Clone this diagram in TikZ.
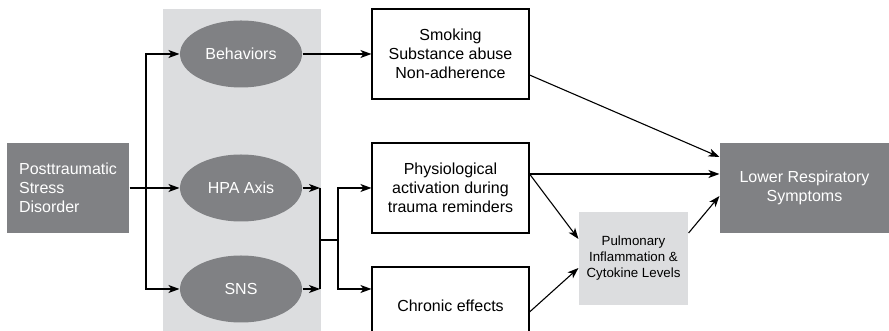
\documentclass[tikz,border=0pt]{standalone}
\usepackage{fontspec}
\setmainfont{Liberation Sans}
\usetikzlibrary{shapes.geometric,arrows.meta,calc}
\definecolor{dk}{RGB}{128,129,132}
\definecolor{lt}{RGB}{220,221,223}
\begin{document}
\begin{tikzpicture}[x=1pt,y=1pt,line width=1.1pt,
  arr/.style={-{Stealth[length=11pt,width=8pt,inset=3pt]}},
  big/.style={font=\fontsize{16}{19}\selectfont},
  darkbox/.style={rectangle,fill=dk,text=white,big,inner sep=0pt,align=left},
  oval/.style={ellipse,fill=dk,text=white,big,minimum width=122pt,minimum height=67pt,inner sep=0pt},
  wbox/.style={rectangle,draw,fill=white,big,align=center,minimum width=157pt,minimum height=90pt,inner sep=0pt}]
\useasboundingbox (0,0) rectangle (889,331);
\clip (0,0) rectangle (889,331);
\fill[lt] (163,0) rectangle (321,322);
\node[darkbox,minimum width=122pt,minimum height=90pt] (ptsd) at (68,143) {Posttraumatic\\Stress\\Disorder};
\node[oval] (beh) at (241,277) {Behaviors};
\node[oval] (hpa) at (241,143) {HPA Axis};
\node[oval] (sns) at (241,42) {SNS};
\node[wbox] (smoke) at (450.5,277) {Smoking\\Substance abuse\\Non-adherence};
\node[wbox] (phys) at (450.5,143) {Physiological\\activation during\\trauma reminders};
\node[wbox] (chronic) at (450.5,19) {\raisebox{13pt}{Chronic effects}};
\node[rectangle,fill=lt,minimum width=109pt,minimum height=93pt,inner sep=0pt,align=center,font=\fontsize{13.3}{16}\selectfont] (pulm) at (633.5,72.5) {Pulmonary\\Inflammation \&\\Cytokine Levels};
\node[darkbox,align=center,minimum width=169pt,minimum height=90pt] (lower) at (804.5,143) {Lower Respiratory\\Symptoms};
\coordinate (j1) at (146,143);
\coordinate (j2) at (320,91);
\coordinate (j3) at (338,91);
\draw[arr] (ptsd.east) -- (hpa.west);
\draw[arr] (j1) |- (beh.west);
\draw[arr] (j1) |- (sns.west);
\draw[arr] (hpa.east) -- (hpa.east -| j2);
\draw[arr] (sns.east) -- (sns.east -| j2);
\draw (hpa.east -| j2) -- (sns.east -| j2);
\draw (j2) -- (j3);
\draw[arr] (j3) |- (phys.west);
\draw[arr] (j3) |- (chronic.west |- sns.east);
\draw[arr] (beh.east) -- (smoke.west);
\draw[arr] ($(smoke.east)+(0,-21)$) -- ($(lower.west)+(0,31)$);
\draw[arr] ($(phys.east)+(0,14)$) -- ($(lower.west)+(0,14)$);
\draw[arr] ($(phys.east)+(0,14)$) -- ($(pulm.west)+(0,19.5)$);
\draw[arr] (chronic.east) -- ($(pulm.west)+(0,-9.5)$);
\draw[arr] ($(pulm.east)+(0,25.5)$) -- ($(lower.west)+(0,-8)$);
\end{tikzpicture}
\end{document}
